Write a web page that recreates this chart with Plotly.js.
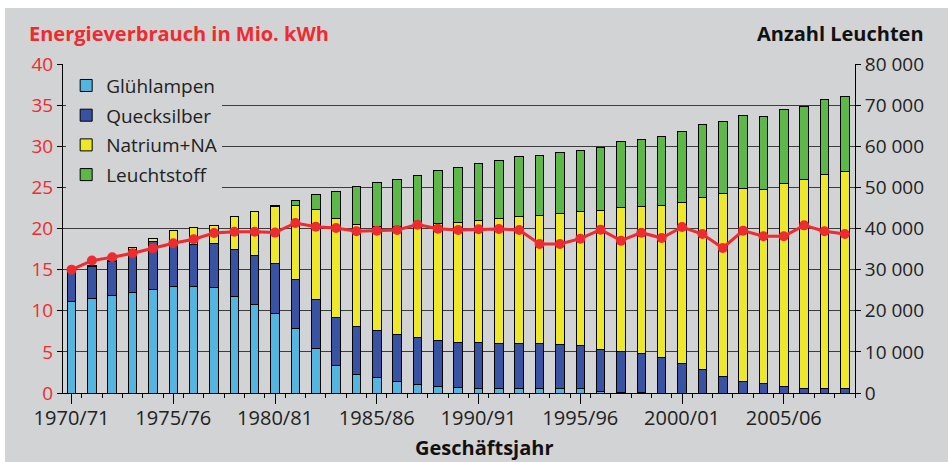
<!DOCTYPE html>
<html>
<head>
<meta charset="utf-8">
<script src="https://cdn.plot.ly/plotly-3.0.1.min.js"></script>
<style>html,body{margin:0;padding:0;background:#fff;}#chart{width:948px;height:462px;}</style>
</head>
<body>
<div id="chart"></div>
<script>
// Geschäftsjahre 1970/71 ... 2008/09 (index 0..38)
const years = ["1970/71","1971/72","1972/73","1973/74","1974/75","1975/76","1976/77","1977/78","1978/79","1979/80",
  "1980/81","1981/82","1982/83","1983/84","1984/85","1985/86","1986/87","1987/88","1988/89","1989/90",
  "1990/91","1991/92","1992/93","1993/94","1994/95","1995/96","1996/97","1997/98","1998/99","1999/00",
  "2000/01","2001/02","2002/03","2003/04","2004/05","2005/06","2006/07","2007/08","2008/09"];
const tickLabels = ["1970/71","1975/76","1980/81","1985/86","1990/91","1995/96","2000/01","2005/06"];

// Anzahl Leuchten (right axis)
const gluehlampen = [22300,23000,23700,24400,25100,25800,25800,25700,23500,21600,
  19400,15700,10900,6600,4600,3700,2800,2100,1500,1300,
  1200,1200,1200,1200,1200,1100,300,100,100,0,
  0,0,0,0,0,0,0,0,0];
const quecksilber = [7600,7700,8200,10400,11800,9800,10200,10700,11500,11800,
  12000,11900,11800,11800,11600,11500,11400,11400,11300,11100,
  11000,10800,10800,10800,10700,10500,10200,9900,9500,8700,
  7200,5800,4100,2800,2400,1500,1100,1100,1100];
const natrium = [0,400,300,600,600,4000,4200,4300,7900,10800,
  13900,18000,21900,24100,24700,25400,26200,27400,28400,29100,
  29800,30400,31000,31200,31800,32500,33900,35200,35700,37000,
  39200,41800,44500,47000,47100,49500,50700,52100,52700];
const leuchtstoff = [0,0,0,0,0,0,0,0,0,0,
  300,1300,3600,6600,9400,10500,11600,12100,12900,13400,
  13800,14200,14400,14600,14700,14900,15400,15900,16300,16600,
  17100,17600,17500,17800,17700,17900,17900,18200,18400];

// Energieverbrauch in Mio. kWh (left axis)
const energie = [15.0,16.1,16.5,17.0,17.6,18.2,18.7,19.45,19.6,19.6,
  19.5,20.67,20.22,20.06,19.66,19.74,19.82,20.47,19.98,19.82,
  19.9,19.94,19.82,18.12,18.12,18.76,19.86,18.52,19.49,18.84,
  20.18,19.33,17.63,19.74,19.05,19.05,20.38,19.66,19.33];

const idx = years.map((_, i) => i);
const tickIdx = tickLabels.map(t => years.indexOf(t));

const BG = '#d1d3d4';
const FONT = 'Open Sans, Noto Sans, sans-serif';

function barTrace(name, vals, color) {
  return {
    type: 'bar', name: name, x: idx, y: vals, hovertext: years, hoverinfo: 'text+y+name',
    textposition: 'none',
    marker: {color: color, line: {color: '#000', width: 1}},
    width: 0.42, xaxis: 'x', yaxis: 'y', legendgroup: name
  };
}

const data = [
  barTrace('Glühlampen', gluehlampen, '#52b6e0'),
  barTrace('Quecksilber', quecksilber, '#3953a4'),
  barTrace('Natrium+NA', natrium, '#eee82a'),
  barTrace('Leuchtstoff', leuchtstoff, '#5cb947'),
  {
    type: 'scatter', mode: 'lines+markers', name: 'Energieverbrauch', x: idx, y: energie,
    line: {color: '#ee2b30', width: 3}, marker: {color: '#ee2b30', size: 10},
    xaxis: 'x', yaxis: 'y2', showlegend: false
  }
];

const layout = {
  width: 948, height: 462,
  margin: {l: 63, r: 93, t: 64, b: 69},
  paper_bgcolor: BG, plot_bgcolor: BG,
  barmode: 'stack',
  separators: ', ',
  font: {family: FONT, size: 19, color: '#222'},
  showlegend: true,
  title: {
    text: 'Energieverbrauch in Mio. kWh',
    font: {family: FONT, size: 20, color: '#ee2b30', weight: 'bold'},
    x: 29 / 948, xref: 'container', xanchor: 'left',
    y: 1 - 34 / 462, yref: 'container', yanchor: 'middle'
  },
  legend: {
    x: 0.004, y: 0.992, xanchor: 'left', yanchor: 'top',
    bgcolor: BG, borderwidth: 0,
    traceorder: 'grouped', tracegroupgap: 2,
    font: {family: FONT, size: 19, color: '#222'}
  },
  xaxis: {
    type: 'linear', range: [-0.42, 38.5],
    tickmode: 'array', tickvals: tickIdx, ticktext: tickLabels,
    ticks: 'outside', ticklen: 10, tickcolor: '#000', tickwidth: 1,
    ticklabelstandoff: -3,
    tickfont: {family: FONT, size: 20, color: '#222'},
    showline: true, linecolor: '#000', linewidth: 1,
    showgrid: false, zeroline: false,
    minor: {tick0: 0.5, dtick: 1, ticks: 'outside', ticklen: 4, tickcolor: '#000', showgrid: false}
  },
  xaxis2: {
    type: 'linear', range: [-0.42, 38.5], overlaying: 'x', anchor: 'y',
    tickmode: 'linear', tick0: 0.5, dtick: 1, ticks: 'inside', ticklen: 3, tickcolor: '#000',
    showticklabels: false, showline: false, showgrid: false, zeroline: false
  },
  yaxis: {
    side: 'right', range: [0, 80000], dtick: 10000, tick0: 0,
    tickformat: ',d',
    ticks: 'outside', ticklen: 5, tickcolor: '#000',
    showline: true, linecolor: '#000', linewidth: 1,
    showgrid: true, gridcolor: '#3c3c3c', gridwidth: 1,
    zeroline: false,
    tickfont: {family: FONT, size: 19, color: '#222'}
  },
  yaxis2: {
    side: 'left', overlaying: 'y', anchor: 'x', range: [0, 40], dtick: 5, tick0: 0,
    ticks: 'outside', ticklen: 5, tickcolor: '#000',
    showline: true, linecolor: '#000', linewidth: 1,
    showgrid: false, zeroline: false,
    tickfont: {family: FONT, size: 19, color: '#ee2b30'}
  },
  annotations: [
    {text: '<b>Anzahl Leuchten</b>', xref: 'paper', yref: 'paper', x: (926 - 63) / 792, y: (393 - 34) / 329,
     xanchor: 'right', yanchor: 'middle', showarrow: false,
     font: {family: FONT, size: 20, color: '#111'}},
    {text: '<b>Geschäftsjahr</b>', xref: 'paper', yref: 'paper', x: (484 - 63) / 792, y: (393 - 447) / 329,
     xanchor: 'center', yanchor: 'middle', showarrow: false,
     font: {family: FONT, size: 20, color: '#111'}}
  ],
  shapes: [
    {type: 'rect', xref: 'paper', yref: 'paper', x0: -0.2, x1: 1.3, y0: (393 - 8) / 329, y1: 1.3,
     fillcolor: '#fff', line: {width: 0}, layer: 'above'},
    {type: 'rect', xref: 'paper', yref: 'paper', x0: -0.2, x1: (5 - 63) / 792, y0: -0.3, y1: 1.3,
     fillcolor: '#fff', line: {width: 0}, layer: 'above'}
  ]
};

Plotly.newPlot('chart', data, layout, {displayModeBar: false, staticPlot: true});
</script>
</body>
</html>
